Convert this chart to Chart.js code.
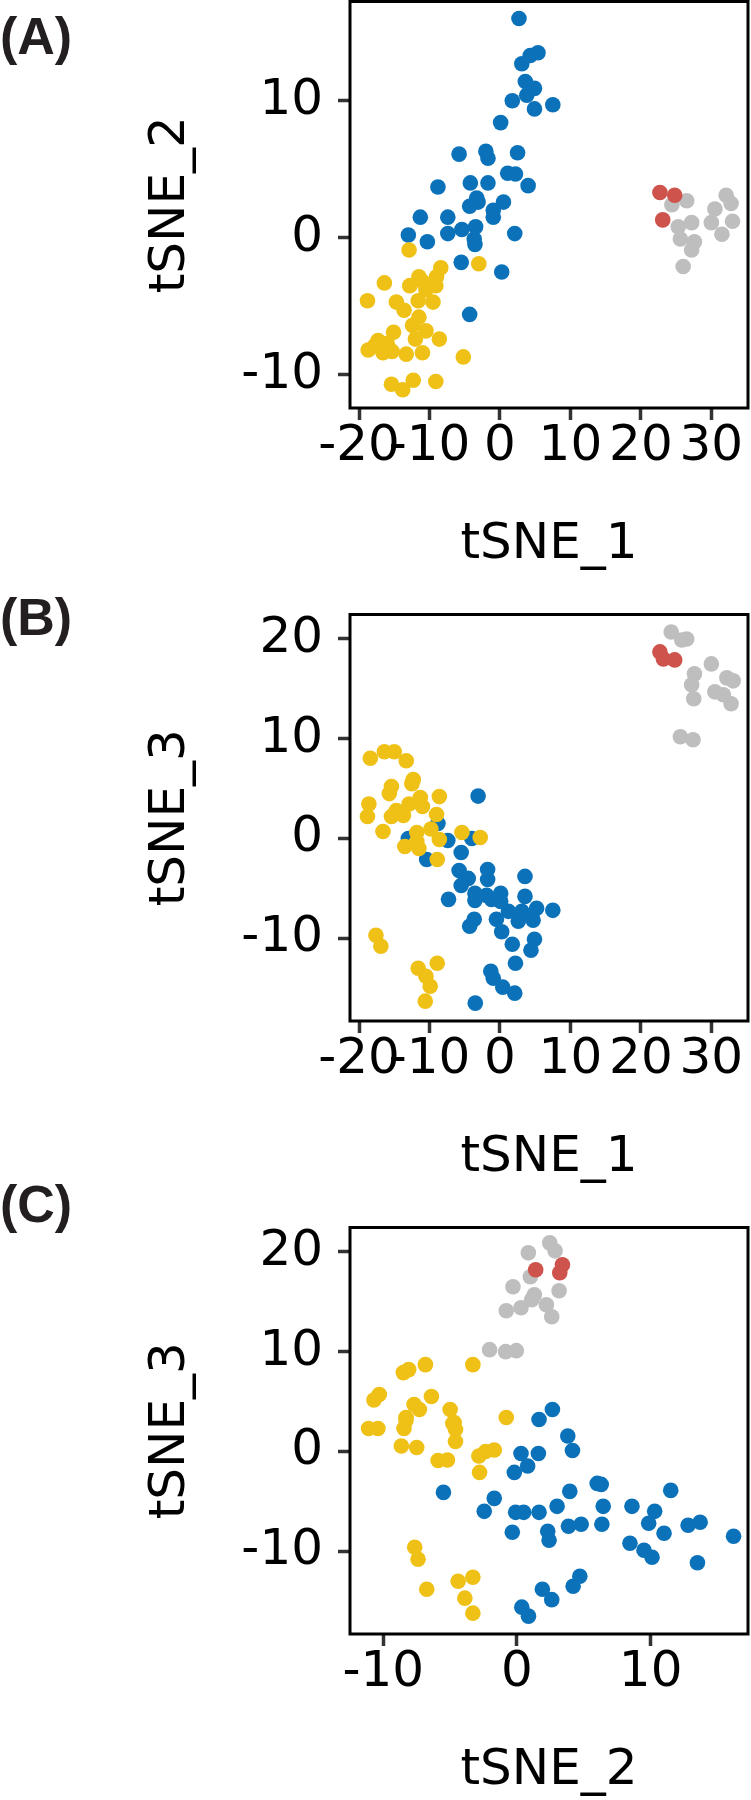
<!DOCTYPE html>
<html>
<head>
<meta charset="utf-8">
<script src="https://cdn.jsdelivr.net/npm/chart.js@4.4.1/dist/chart.umd.min.js"></script>
<style>
  html, body { margin: 0; padding: 0; background: #fff; width: 751px; height: 1800px; overflow: hidden; }
  .panel { position: absolute; left: 0; width: 751px; height: 613px; }
  .tag { position: absolute; left: 0; font: bold 52px "Liberation Sans", Arial, sans-serif; line-height: 52px; color: #231f20; z-index: 2; }
</style>
</head>
<body>
<canvas id="cA" class="panel" width="751" height="613" style="top:0px"></canvas>
<canvas id="cB" class="panel" width="751" height="613" style="top:613px"></canvas>
<canvas id="cC" class="panel" width="751" height="613" style="top:1226px"></canvas>
<div class="tag" style="top:10px">(A)</div>
<div class="tag" style="top:591px">(B)</div>
<div class="tag" style="top:1178px">(C)</div>

<script>
// 1. DADOS
// painel A: tSNE_1 x tSNE_2
const aBlue = [[2.7,16.0],[5.4,13.5],[4.3,13.3],[3.1,12.7],[3.6,11.4],[4.9,10.9],[3.8,10.4],[1.75,10.0],[4.9,9.4],[7.5,9.7],
  [0.1,8.4],[-5.8,6.1],[-2.0,6.3],[-1.7,5.8],[2.5,6.2],[-8.8,3.7],[-4.2,4.0],[-1.7,4.0],[1.1,4.7],[2.2,4.65],[4.0,3.8],
  [-3.3,2.9],[-4.3,2.3],[-3.1,2.6],[-0.95,2.0],[-0.95,1.5],[0.5,2.6],[-11.3,1.5],[-7.4,1.5],[-13.0,0.2],[-10.3,-0.3],
  [-7.4,0.3],[-5.4,0.6],[-3.45,0.8],[-3.65,-0.1],[-3.55,-0.5],[2.1,0.3],[-5.5,-1.8],[0.25,-2.5],[-4.3,-5.6]];
const aYellow = [[-12.9,-0.9],[-3.0,-1.9],[-8.4,-2.2],[-11.5,-2.85],[-9.0,-2.85],[-16.4,-3.3],[-9.1,-3.5],[-10.5,-3.8],
  [-18.8,-4.6],[-14.7,-4.7],[-11.6,-4.6],[-9.5,-4.7],[-13.6,-5.3],[-11.5,-5.8],[-12.4,-6.4],[-10.5,-6.8],[-15.1,-6.9],
  [-17.3,-7.5],[-12.0,-7.4],[-8.6,-7.4],[-18.7,-8.2],[-16.6,-8.4],[-15.3,-8.3],[-13.3,-8.5],[-11.0,-8.4],[-5.2,-8.7],
  [-15.4,-10.7],[-13.8,-11.1],[-12.3,-10.4],[-9.1,-10.5],[-17.8,-7.9],[-16.0,-7.7],[-12.8,-3.5],[-11.0,-3.2]];
const aGray = [[24.4,2.4],[26.5,2.7],[25.3,0.8],[27.2,1.1],[25.6,-0.1],[27.6,-0.3],[27.2,-0.9],[26.0,-2.1],
  [30.5,2.1],[32.1,3.1],[32.8,2.5],[30.0,1.1],[33.0,1.2],[31.5,0.25]];
const aRed = [[22.7,3.3],[24.8,3.1],[23.1,1.3]];

// painel B: tSNE_1 x tSNE_3
const bBlue = [[-3.1,4.25],[-8.8,1.5],[-7.4,-0.2],[-4.0,0.0],[-5.5,-1.4],[-10.4,-2.1],[-13.0,0.0],[-5.8,-3.2],[-4.5,-4.0],
  [-5.5,-4.7],[-1.75,-3.1],[-1.75,-4.1],[3.55,-3.8],[-7.3,-6.1],[-3.55,-5.5],[-3.55,-6.2],[-1.9,-5.7],[0.1,-5.5],
  [-1.2,-6.1],[0.1,-6.3],[3.55,-5.8],[1.2,-7.3],[3.1,-7.3],[5.2,-7.0],[7.5,-7.2],[4.5,-7.7],[-0.5,-8.1],[2.6,-8.3],
  [4.7,-8.2],[-3.65,-8.1],[-4.3,-8.8],[0.25,-9.35],[4.9,-10.1],[4.4,-11.2],[1.75,-10.6],[2.2,-12.5],[-1.3,-13.3],
  [-0.95,-14.0],[0.4,-14.9],[2.1,-15.5],[-3.5,-16.5]];
const bYellow = [[-18.4,8.05],[-16.4,8.7],[-15.0,8.7],[-13.3,7.8],[-15.7,4.5],[-15.4,5.2],[-12.5,5.5],[-12.3,5.9],
  [-18.6,3.45],[-18.8,2.2],[-15.4,2.2],[-14.7,2.8],[-13.7,2.3],[-12.9,3.45],[-11.3,4.1],[-11.0,3.2],[-8.6,4.2],
  [-9.0,2.4],[-16.6,0.7],[-11.8,0.6],[-9.8,0.95],[-8.6,-0.1],[-5.4,0.6],[-2.8,0.1],[-13.5,-0.8],[-11.5,-1.0],
  [-11.8,-0.3],[-8.9,-2.1],[-17.6,-9.7],[-16.9,-10.8],[-11.6,-13.0],[-8.9,-12.5],[-10.5,-13.8],[-9.9,-14.8],[-10.6,-16.3]];
const bGray = [[24.3,20.7],[26.5,20.0],[25.8,19.9],[30.0,17.5],[27.6,16.5],[27.2,15.4],[27.5,14.0],[32.2,16.1],
  [33.1,15.8],[30.5,14.7],[31.7,14.4],[32.8,13.5],[25.6,10.2],[27.4,9.9]];
const bRed = [[22.7,18.7],[23.2,18.0],[24.8,17.9]];

// painel C: tSNE_2 x tSNE_3
const cBlue = [[2.65,4.2],[1.65,3.2],[3.8,1.55],[4.15,0.1],[0.3,-0.2],[1.6,-0.2],[0.8,-1.45],[-0.2,-2.1],[-5.5,-4.1],
  [-1.7,-4.7],[-2.45,-6.0],[-0.1,-6.1],[0.5,-6.1],[1.65,-6.1],[3.0,-5.5],[3.95,-4.0],[6.0,-3.2],[6.3,-3.3],[6.45,-5.5],
  [8.6,-5.5],[10.3,-6.0],[11.5,-3.9],[9.85,-7.2],[11.0,-8.2],[12.8,-7.4],[13.7,-7.1],[16.2,-8.5],[-0.35,-8.1],
  [2.3,-8.0],[2.4,-8.9],[3.85,-7.5],[4.8,-7.3],[6.35,-7.3],[8.45,-9.2],[9.5,-9.9],[10.1,-10.6],[13.5,-11.15],
  [4.7,-12.5],[4.2,-13.5],[1.9,-13.8],[2.6,-14.85],[0.36,-15.6],[0.86,-16.5]];
const cYellow = [[-6.85,8.7],[-3.3,8.7],[-8.5,7.9],[-8.1,8.2],[-6.4,5.5],[-7.7,4.7],[-7.3,4.2],[-5.0,4.2],[-8.3,3.4],
  [-4.7,2.9],[-8.45,2.3],[-4.6,2.2],[-0.8,3.4],[-8.65,0.55],[-7.5,0.4],[-4.6,1.0],[-5.9,-0.9],[-5.2,-0.85],
  [-2.85,-0.45],[-2.35,0],[-1.7,0.15],[-2.8,-2.1],[-10.7,5.15],[-10.3,5.7],[-11.1,2.3],[-10.4,2.3],[-7.65,-9.6],
  [-7.4,-10.8],[-6.75,-13.8],[-4.4,-13.0],[-3.3,-12.6],[-3.9,-14.7],[-3.3,-16.2],[-4.8,2.8],[-8.3,3.1]];
const cGray = [[2.45,20.9],[2.85,20.1],[0.85,19.9],[1.0,17.5],[-0.3,16.5],[3.15,16.1],[1.3,15.7],[1.1,15.2],
  [-0.8,14.1],[0.3,14.4],[2.2,14.7],[2.6,13.5],[-2.05,10.2],[-0.85,10.0],[-0.05,10.1]];
const cRed = [[1.4,18.2],[3.4,18.7],[3.2,17.9]];

// ticks
const ticksT1 = [-20, -10, 0, 10, 20, 30];
const ticksT2 = [-10, 0, 10];
const ticksT3 = [-10, 0, 10, 20];

// 2. ESTILO
const COR = { blue: '#0B72BA', yellow: '#EFC116', gray: '#BEBEBE', red: '#CD534C' };

const boxPlugin = {
  id: 'box',
  afterDatasetsDraw(chart) {
    const { ctx, chartArea: a } = chart;
    ctx.save();
    ctx.strokeStyle = '#000';
    ctx.lineWidth = 3;
    ctx.strokeRect(a.left, a.top, a.right - a.left, a.bottom - a.top);
    ctx.restore();
  }
};

const toPts = arr => arr.map(p => ({ x: p[0], y: p[1] }));
const fixTicks = vals => s => { s.ticks = vals.map(v => ({ value: v })); };

function desenharPainel(id, grupos, xr, yr, xTicks, yTicks, xTitulo, yTitulo) {
  // primeiro dataset fica por cima
  const datasets = grupos.map(g => ({
    data: toPts(g.pts), backgroundColor: g.cor, pointRadius: 7.8, pointHoverRadius: 7.8, borderWidth: 0
  }));
  const tickFont = { family: 'DejaVu Sans', size: 50, lineHeight: 1 };
  const titleFont = { family: 'DejaVu Sans', size: 50, lineHeight: 1.2 };
  const grid = { drawOnChartArea: false, drawTicks: true, tickLength: 12, tickWidth: 3.5, tickColor: '#333' };

  return new Chart(document.getElementById(id), {
    type: 'scatter',
    data: { datasets },
    options: {
      responsive: false, animation: false, devicePixelRatio: 1,
      layout: { autoPadding: false, padding: { top: 1.5, right: 3, left: 0, bottom: 0 } },
      plugins: { legend: { display: false }, tooltip: { enabled: false } },
      scales: {
        x: {
          type: 'linear', min: xr[0], max: xr[1],
          afterBuildTicks: fixTicks(xTicks),
          afterFit: s => { s.height = 205; s.paddingLeft = 0; s.paddingRight = 0; },
          grid, border: { display: false },
          ticks: { font: tickFont, color: '#000', padding: 2, autoSkip: false, maxRotation: 0, minRotation: 0, callback: v => String(v) },
          title: { display: true, text: xTitulo, font: titleFont, color: '#000', padding: { top: 0, bottom: 38 } }
        },
        y: {
          type: 'linear', min: yr[0], max: yr[1],
          afterBuildTicks: fixTicks(yTicks),
          afterFit: s => { s.width = 350; s.paddingTop = 0; s.paddingBottom = 0; },
          grid, border: { display: false },
          ticks: { font: tickFont, color: '#000', padding: 15, autoSkip: false, callback: v => String(v) },
          title: { display: true, text: yTitulo, font: titleFont, color: '#000', padding: { top: 141, bottom: 0 } }
        }
      }
    },
    plugins: [boxPlugin]
  });
}

// 3. PAINÉIS
desenharPainel('cA',
  [{ pts: aRed, cor: COR.red }, { pts: aYellow, cor: COR.yellow }, { pts: aBlue, cor: COR.blue }, { pts: aGray, cor: COR.gray }],
  [-21.28, 35.2], [-12.43, 17.24], ticksT1, ticksT2, 'tSNE_1', 'tSNE_2');

desenharPainel('cB',
  [{ pts: bRed, cor: COR.red }, { pts: bYellow, cor: COR.yellow }, { pts: bBlue, cor: COR.blue }, { pts: bGray, cor: COR.gray }],
  [-21.28, 35.2], [-18.29, 22.45], ticksT1, ticksT3, 'tSNE_1', 'tSNE_3');

desenharPainel('cC',
  [{ pts: cRed, cor: COR.red }, { pts: cYellow, cor: COR.yellow }, { pts: cBlue, cor: COR.blue }, { pts: cGray, cor: COR.gray }],
  [-12.49, 17.28], [-18.29, 22.44], ticksT2, ticksT3, 'tSNE_2', 'tSNE_3');
</script>
</body>
</html>
